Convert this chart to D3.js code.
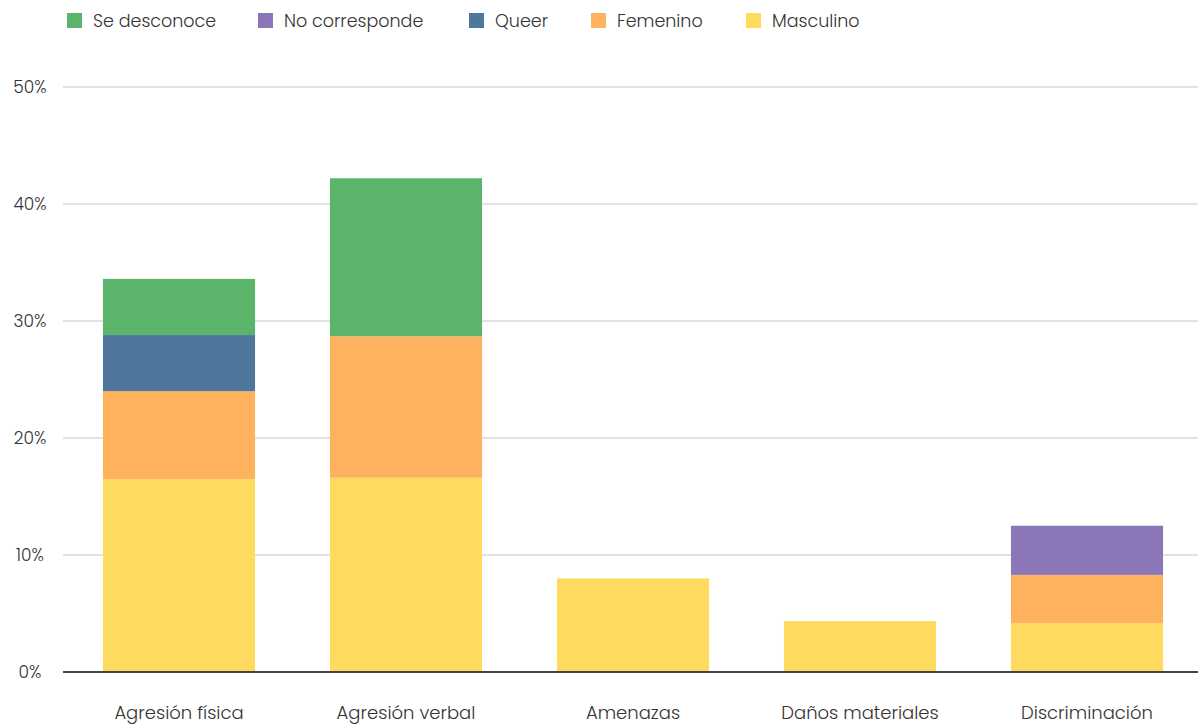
<!DOCTYPE html>
<html>
<head>
<meta charset="utf-8">
<script src="https://cdn.jsdelivr.net/npm/d3@7"></script>
<style>
  html, body { margin: 0; padding: 0; background: #fff; }
  svg { display: block; font-family: Poppins, "Open Sans", sans-serif; }
</style>
</head>
<body>
<svg id="chart" width="1198" height="724"></svg>
<script>
const categories = ["Agresión física", "Agresión verbal", "Amenazas", "Daños materiales", "Discriminación"];
const seriesNames = ["Masculino", "Femenino", "Queer", "No corresponde", "Se desconoce"];
const masculino = [16.5, 16.6, 8.0, 4.35, 4.15];
const femenino = [7.5, 12.1, 0, 0, 4.15];
const queer = [4.8, 0, 0, 0, 0];
const noCorresponde = [0, 0, 0, 0, 4.2];
const seDesconoce = [4.8, 13.5, 0, 0, 0];
const yTicks = [0, 10, 20, 30, 40, 50];
const legendOrder = ["Se desconoce", "No corresponde", "Queer", "Femenino", "Masculino"];
const colors = ["#fedb5e", "#ffb25e", "#4f779c", "#8b77b7", "#5ab56a"];

const seriesValues = [masculino, femenino, queer, noCorresponde, seDesconoce];
const rows = categories.map((c, i) => {
  const r = { category: c };
  seriesNames.forEach((s, j) => r[s] = seriesValues[j][i]);
  return r;
});

const svg = d3.select("#chart");
const margin = { left: 63, right: 0, top: 87, bottom: 52 };
const W = 1198, H = 724;

const x = d3.scaleBand().domain(categories).range([65.5, 1200.5]).paddingInner(0.33).paddingOuter(0.165);
const y = d3.scaleLinear().domain([0, 50]).range([672, 87]);
const color = d3.scaleOrdinal().domain(seriesNames).range(colors);

// grid
svg.append("g").selectAll("line").data(yTicks.filter(t => t > 0)).join("line")
  .attr("x1", margin.left).attr("x2", W)
  .attr("y1", d => y(d)).attr("y2", d => y(d))
  .attr("stroke", "#d9d9d9").attr("stroke-width", 1.5);

// y labels
svg.append("g").selectAll("text").data(yTicks).join("text")
  .attr("x", 30).attr("y", d => y(d)).attr("dy", "0.35em")
  .attr("text-anchor", "middle")
  .attr("font-size", 17).attr("font-weight", 300).attr("fill", "#333")
  .text(d => d + "%");

// bars
const stack = d3.stack().keys(seriesNames)(rows);
svg.append("g").selectAll("g").data(stack).join("g")
  .attr("fill", d => color(d.key))
  .selectAll("rect").data(d => d).join("rect")
  .attr("x", d => x(d.data.category))
  .attr("width", x.bandwidth())
  .attr("y", d => y(d[1]))
  .attr("height", d => y(d[0]) - y(d[1]));

// baseline
svg.append("line").attr("x1", margin.left).attr("x2", W)
  .attr("y1", y(0)).attr("y2", y(0))
  .attr("stroke", "#444").attr("stroke-width", 2);

// x labels
svg.append("g").selectAll("text").data(categories).join("text")
  .attr("x", d => x(d) + x.bandwidth() / 2).attr("y", 719)
  .attr("text-anchor", "middle")
  .attr("font-size", 18).attr("font-weight", 300).attr("fill", "#333")
  .text(d => d);

// legend
const legendX = [67, 258, 469, 591, 746];
const lg = svg.append("g").selectAll("g").data(legendOrder).join("g")
  .attr("transform", (d, i) => `translate(${legendX[i]},13)`);
lg.append("rect").attr("width", 15).attr("height", 15).attr("fill", d => color(d));
lg.append("text").attr("x", 26).attr("y", 7.5).attr("dy", "0.35em")
  .attr("font-size", 17.5).attr("font-weight", 300).attr("fill", "#333")
  .text(d => d);
</script>
</body>
</html>
